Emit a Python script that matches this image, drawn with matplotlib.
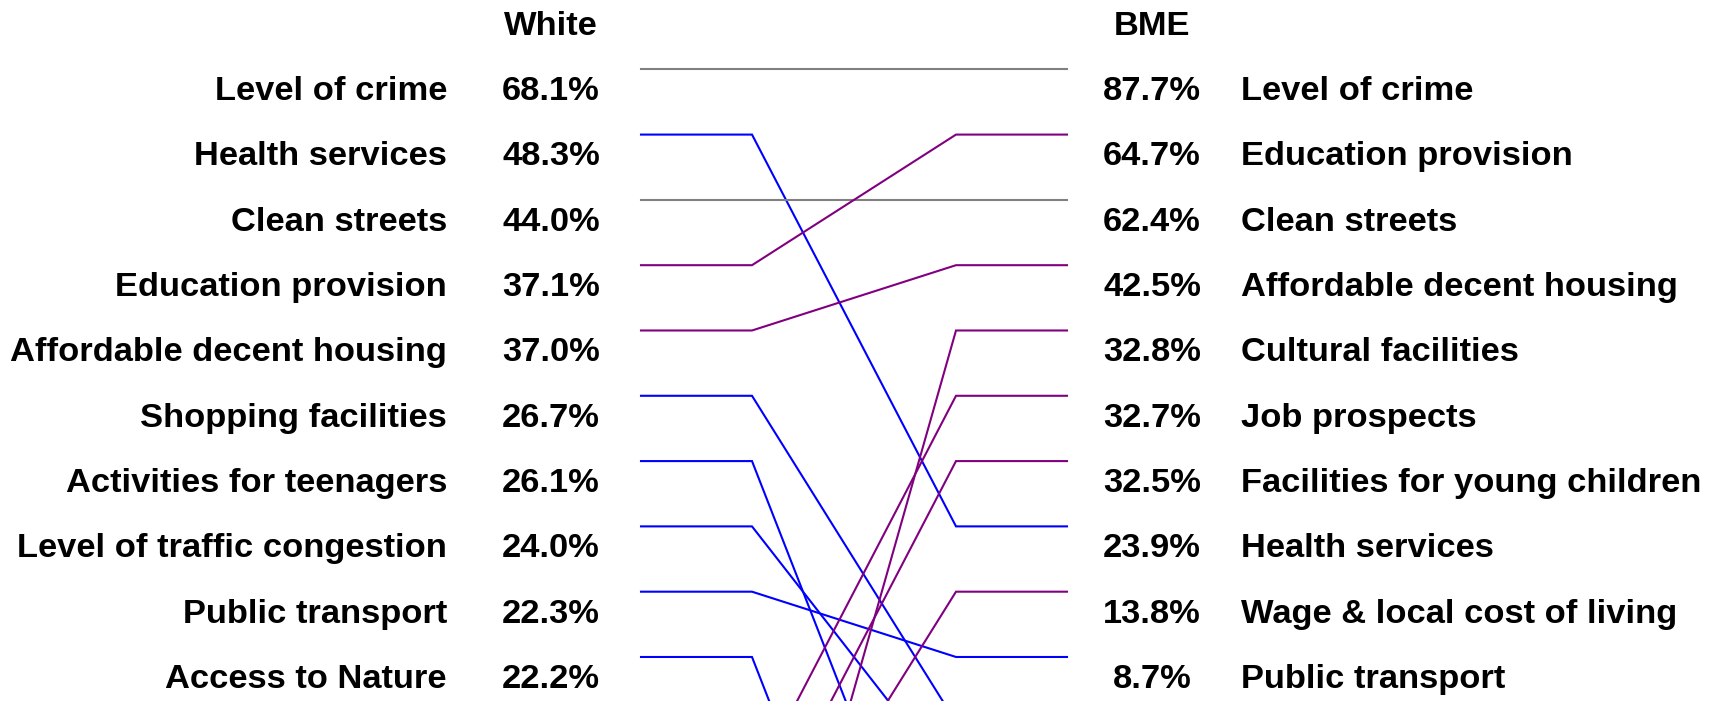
import matplotlib.pyplot as plt

# -----------------------------
# Data
# -----------------------------
white_labels = ["Level of crime", "Health services", "Clean streets", "Education provision",
                "Affordable decent housing", "Shopping facilities", "Activities for teenagers",
                "Level of traffic congestion", "Public transport", "Access to Nature"]
white_pct = [68.1, 48.3, 44.0, 37.1, 37.0, 26.7, 26.1, 24.0, 22.3, 22.2]

bme_labels = ["Level of crime", "Education provision", "Clean streets", "Affordable decent housing",
              "Cultural facilities", "Job prospects", "Facilities for young children",
              "Health services", "Wage & local cost of living", "Public transport"]
bme_pct = [87.7, 64.7, 62.4, 42.5, 32.8, 32.7, 32.5, 23.9, 13.8, 8.7]

# ranks outside the top ten (estimated from where the lines leave the chart)
white_rank_extra = {"Job prospects": 12, "Facilities for young children": 13,
                    "Wage & local cost of living": 14, "Cultural facilities": 16}
bme_rank_extra = {"Shopping facilities": 11, "Level of traffic congestion": 12,
                  "Activities for teenagers": 15, "Access to Nature": 18}

# -----------------------------
# Figure
# -----------------------------
plt.rcParams['font.family'] = ['Liberation Sans', 'DejaVu Sans']
fig = plt.figure(figsize=(17.15, 7.01), dpi=100)
ax = fig.add_axes([0, 0, 1, 1])
ax.set_xlim(0, 1715)
ax.set_ylim(10.674, -0.061)
ax.axis('off')

x_l0, x_l1, x_r0, x_r1 = 641, 752, 956, 1067
fs = 24.8
txt_off = 0.472

def rank_of(name, labels, extra):
    if name in labels:
        return labels.index(name) + 1
    return extra[name]

names = white_labels + [n for n in bme_labels if n not in white_labels]
for name in names:
    rw = rank_of(name, white_labels, white_rank_extra)
    rb = rank_of(name, bme_labels, bme_rank_extra)
    if rw == rb:
        col = "#808080"
    elif rb > rw:
        col = "#0000ff"
    else:
        col = "#800080"
    ax.plot([x_l0, x_l1, x_r0, x_r1], [rw, rw, rb, rb], color=col, lw=1.5,
            solid_joinstyle='miter')

for i, (lab, p) in enumerate(zip(white_labels, white_pct)):
    y = i + 1 + txt_off
    ax.text(447, y, lab, ha='right', va='baseline', fontsize=fs, fontweight='bold')
    ax.text(551, y, f"{p:.1f}%", ha='center', va='baseline', fontsize=fs, fontweight='bold')

for i, (lab, p) in enumerate(zip(bme_labels, bme_pct)):
    y = i + 1 + txt_off
    ax.text(1152, y, f"{p:.1f}%", ha='center', va='baseline', fontsize=fs, fontweight='bold')
    ax.text(1241, y, lab, ha='left', va='baseline', fontsize=fs, fontweight='bold')

ax.text(551, 0.4825, "White", ha='center', va='baseline', fontsize=fs, fontweight='bold')
ax.text(1152, 0.4825, "BME", ha='center', va='baseline', fontsize=fs, fontweight='bold')

plt.savefig("out.png", dpi=100)
plt.close()
